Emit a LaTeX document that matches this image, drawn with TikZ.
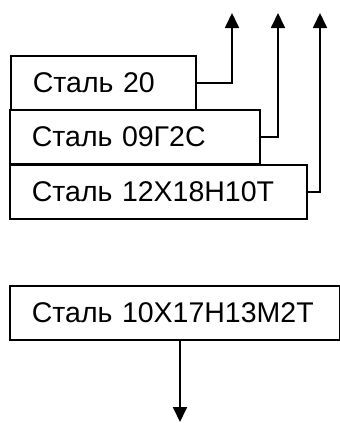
\documentclass[tikz,border=0pt]{standalone}
\usepackage{fontspec}
\setmainfont{Liberation Sans}
\usetikzlibrary{arrows.meta,positioning}
\tikzset{
  steelbox/.style = {draw, line width=1.8pt, rectangle, anchor=north west,
                     minimum height=54pt, inner xsep=22pt, inner ysep=0pt,
                     align=left, font=\fontsize{28.5}{32}\selectfont},
  sig/.style      = {-{Triangle[length=15pt,width=14pt]}, line width=1.8pt},
}
\begin{document}
\begin{tikzpicture}[x=1pt,y=-1pt]
\useasboundingbox (0,0) rectangle (340,423);
% stacked steel grades
\node[steelbox,text width=141pt] (st20)  at (10,55)  {Сталь 20};
\node[steelbox,text width=206pt] (st09)  at (9,109)  {Сталь 09Г2С};
\node[steelbox,text width=253pt] (st12)  at (9,164)  {Сталь 12Х18Н10Т};
\node[steelbox,text width=286pt] (st10)  at (9,285)  {Сталь 10Х17Н13М2Т};
% free ends of the outputs
\coordinate (up20) at (232,13);
\coordinate (up09) at (278,13);
\coordinate (up12) at (320,13);
\coordinate (down10) at (180,422);
\draw[sig] (st20.east) -| (up20);
\draw[sig] (st09.east) -| (up09);
\draw[sig] (st12.east) -| (up12);
\draw[sig] (st10.south -| down10) -- (down10);
\end{tikzpicture}
\end{document}
